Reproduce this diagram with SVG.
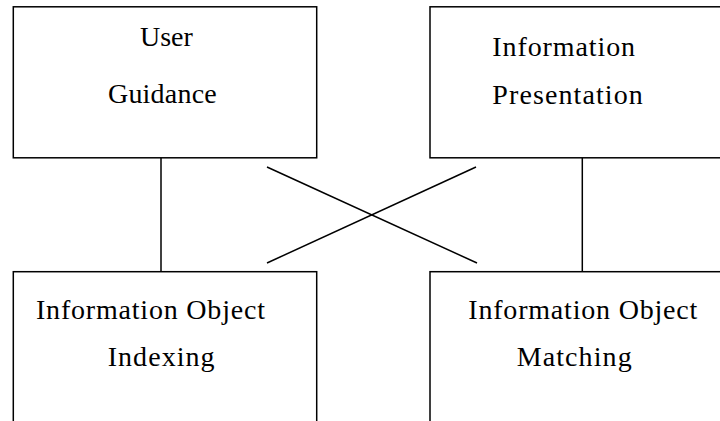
<svg xmlns="http://www.w3.org/2000/svg" width="720" height="421" viewBox="0 0 720 421">
<style>
.box{fill:#fff;stroke:#000;stroke-width:1.5}
.ln{stroke:#000;stroke-width:1.5;fill:none}
</style>
<rect width="720" height="421" fill="#fff"/>
<g id="connectors">
<line class="ln" x1="161" y1="158" x2="161" y2="272"/>
<line class="ln" x1="582.3" y1="158" x2="582.3" y2="272"/>
<line class="ln" x1="267" y1="167" x2="477" y2="263"/>
<line class="ln" x1="267" y1="263" x2="476" y2="167"/>
</g>
<g font-family="Liberation Serif, serif" font-size="28" fill="#000">
<g id="user-guidance">
<rect class="box" x="13.3" y="6.8" width="303.4" height="151"/>
<text x="140" y="45.7">User</text>
<text x="108" y="103.3" letter-spacing="0.2">Guidance</text>
</g>
<g id="information-presentation">
<rect class="box" x="430" y="6.8" width="300" height="151"/>
<text x="492.3" y="56" letter-spacing="0.9">Information</text>
<text x="492.3" y="104.3" letter-spacing="1.1">Presentation</text>
</g>
<g id="information-object-indexing">
<rect class="box" x="13.3" y="271.7" width="303.4" height="160"/>
<text x="36" y="319.3" letter-spacing="0.8">Information Object</text>
<text x="107.7" y="366" letter-spacing="1.05">Indexing</text>
</g>
<g id="information-object-matching">
<rect class="box" x="430" y="271.7" width="300" height="160"/>
<text x="468.3" y="319.3" letter-spacing="0.8">Information Object</text>
<text x="516.7" y="366" letter-spacing="1.1">Matching</text>
</g>
</g>
</svg>
